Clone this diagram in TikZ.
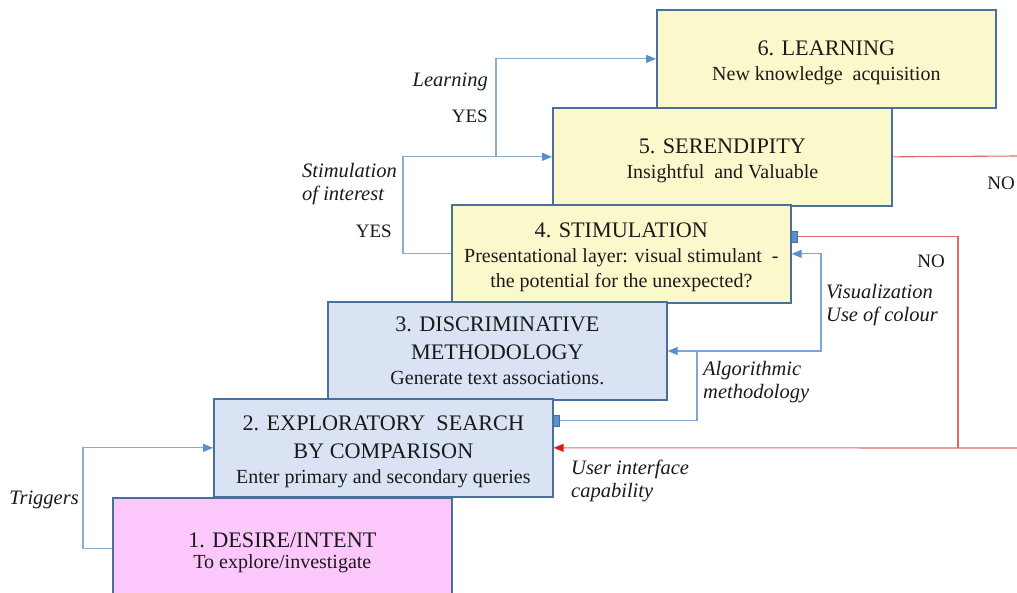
\documentclass[tikz,border=0pt]{standalone}
\usepackage{fontspec}
\setmainfont{Liberation Serif}
\usetikzlibrary{arrows.meta,calc}

\definecolor{boxedge}{HTML}{4A6F9A}
\definecolor{yellowfill}{HTML}{FBF9CC}
\definecolor{bluefill}{HTML}{DAE3F3}
\definecolor{pinkfill}{HTML}{FCC8FC}
\definecolor{paleline}{HTML}{90AACB}
\definecolor{blueline}{HTML}{7FA7D6}
\definecolor{bluetip}{HTML}{5B8FCC}
\definecolor{redline}{HTML}{E06A6A}
\definecolor{redtip}{HTML}{E01818}
\definecolor{txt}{HTML}{1A1A1A}

\newcommand{\ttl}{\fontsize{22.2}{27}\selectfont}
\newcommand{\sbt}{\fontsize{20}{25}\selectfont}
% first heading line of a stage, with a little extra head room
\newcommand{\hd}[1]{{\ttl\rule{0pt}{21.7pt}#1}}

\tikzset{
  stage/.style={draw=boxedge, line width=1.7pt, rectangle, anchor=north west,
    minimum width=339pt, minimum height=98pt, align=center, text=txt,
    inner sep=0pt, font=\sbt},
  yel/.style={stage, fill=yellowfill},
  blu/.style={stage, fill=bluefill},
  pnk/.style={stage, fill=pinkfill},
  paleconn/.style={draw=paleline, line width=1.2pt},
  blueconn/.style={draw=blueline, line width=1.2pt},
  redconn/.style={draw=redline, line width=1.1pt},
  tipblue/.style={-{Triangle[length=10pt,width=8pt,color=bluetip]}},
  tipred/.style={-{Triangle[length=10pt,width=8pt,color=redtip]}},
  portsq/.style={draw=boxedge, fill=bluetip, line width=0.6pt, rectangle,
    minimum width=6pt, minimum height=11pt, inner sep=0pt},
  lbl/.style={font=\fontsize{20.5}{23.5}\selectfont\itshape, text=txt, inner sep=0pt},
  yn/.style={font=\fontsize{19}{23}\selectfont, text=txt, inner sep=0pt},
}

\begin{document}
\begin{tikzpicture}[x=1pt, y=-1pt]
\clip (0,0) rectangle (1017,593);
\fill[white] (0,0) rectangle (1017,593);

% stages, drawn from the top step downwards
\node[yel] (b6) at (656,9) {\hd{6. LEARNING}\\New\ knowledge\ \ acquisition};
\node[yel] (b5) at (552,107) {\hd{5. SERENDIPITY}\\Insightful\ \ and Valuable};
\node[yel] (b4) at (451,204) {\hd{4. STIMULATION}\\Presentational\ layer: visual stimulant\ \ -\\the\ potential for the unexpected?};
\node[blu] (b3) at (327,301) {\hd{3. DISCRIMINATIVE}\\[3pt]{\ttl METHODOLOGY}\\Generate text associations.\rule[-8.3pt]{0pt}{1pt}};
\node[blu] (b2) at (213,398) {\hd{2. EXPLORATORY\ \ SEARCH}\\[3pt]{\ttl BY COMPARISON}\\Enter primary and secondary queries};
\node[pnk, minimum height=102pt] (b1) at (112,497) {\hd{1. DESIRE/INTENT}\\[-4pt]To explore/investigate};

% junction points
\coordinate (lj) at (496,156);
\coordinate (aj) at (697,351);
\coordinate (vj) at (821,351);
\coordinate (rj) at (958,448);
\coordinate (rin) at (1017,448);
\coordinate (rout) at (1017,156);

% YES loops
\draw[paleconn, tipblue] (b1.west) -- ++(-29,0) |- (b2.west);
\draw[paleconn, tipblue] (b4.west) -- ++(-48,0) |- (b5.west);
\draw[paleconn, tipblue] (lj) |- (b6.west);

% forward feeds on the right
\node[portsq] (m2) at ($(b2.east)+(3,-27.5)$) {};
\draw[blueconn, tipblue] (m2) -| (aj) -- (aj -| b3.east);
\draw[blueconn, tipblue] (aj) -- (vj) |- (b4.east);

% NO returns
\draw[redconn] (b5.east) -- (rout);
\node[portsq] (m4) at ($(b4.east)+(3,-17)$) {};
\draw[redconn] (m4) -| (rj);
\draw[redconn, tipred] (rin) -- (b2.east);

% labels
\node[lbl, anchor=east] (ltrig) at (79,500) {Triggers};
\node[lbl, anchor=west, align=left] (lstim) at (302,184) {Stimulation\\of interest};
\node[yn, anchor=east] (yes1) at (392,231) {YES};
\node[lbl, anchor=east] (llearn) at (488,82) {Learning};
\node[yn, anchor=east] (yes2) at (488,116) {YES};
\node[lbl, anchor=west, align=left] (lvis) at (826,305) {Visualization\\Use of colour};
\node[lbl, anchor=west, align=left] (lalg) at (703,382) {Algorithmic\\methodology};
\node[lbl, anchor=west, align=left] (lui) at (571,481) {User interface\\capability};
\node[yn] (no1) at (931,261) {NO};
\node[yn, anchor=east] (no2) at (1015,183) {NO};
\end{tikzpicture}
\end{document}
